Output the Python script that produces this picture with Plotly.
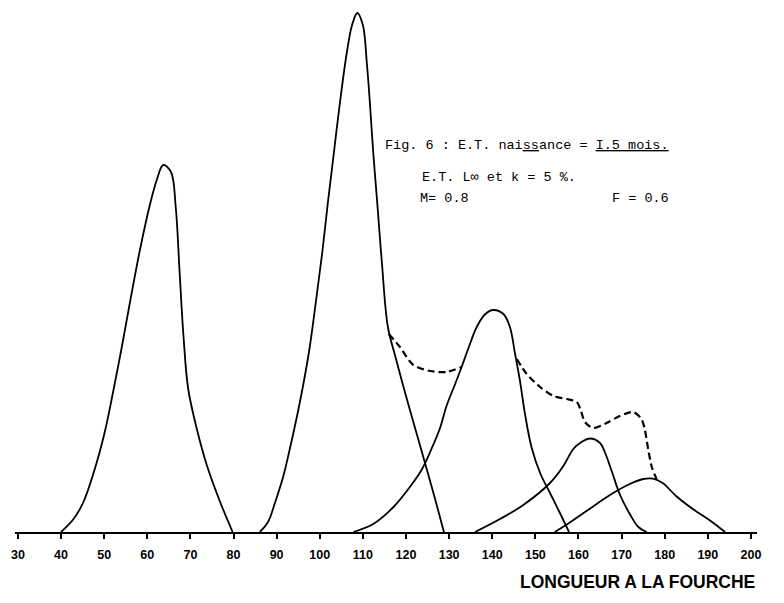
import plotly.graph_objects as go

# ---- data (length in cm, relative frequency in arbitrary units)
c1_x = [40, 42.9, 45.2, 47.9, 50.2, 51.8, 54.1, 56.0, 58.3, 60.6, 62.2, 63.7, 65.5, 66.6, 67.5, 68.4, 69.5, 71.5, 73.8, 76.9, 79.8]
c1_y = [0, 13, 30, 64, 101, 134, 185, 230, 282, 327, 352, 367, 360, 325, 260, 196, 143, 103, 67, 30, 0]

c2_x = [86.1, 88.0, 89.6, 91.5, 92.9, 95.4, 97.5, 99.1, 100.6, 101.9, 103.3, 104.7, 106.3, 107.5, 108.7,
        110.0, 110.9, 111.6, 112.4, 113.3, 114.4, 115.8, 117.5, 120.0, 122.5, 125.0, 127.0, 128.8]
c2_y = [0, 10, 29, 55, 80, 130, 180, 230, 280, 330, 380, 430, 480, 507, 519,
        507, 470, 431, 380, 331, 270, 205, 176, 136, 98, 60, 29, 0]

c3_x = [107.8, 112.4, 117.1, 120.9, 123.6, 125.9, 127.9, 129.4, 131.4, 132.9, 134.5, 136.4, 138.4, 140.2,
        142.6, 144.1, 145.3, 146.4, 147.6, 149.1, 151.1, 153.4, 155.7, 157.8]
c3_y = [0, 8, 25, 45, 62, 83, 104, 126, 148, 165, 184, 205, 218, 222,
        218, 205, 178, 152, 118, 85, 59, 39, 19, 0]

c4_x = [136.0, 141.8, 147.2, 153.4, 156.5, 158.8, 160.7, 162.7, 165.0, 166.1, 167.7, 169.6, 171.9, 173.9, 175.8]
c4_y = [0, 13, 27, 49, 66, 83, 90, 93.5, 89, 80, 61, 37.5, 18, 5, 0]

c5_x = [154.5, 158.0, 162.7, 167.3, 171.9, 175.0, 177.3, 179.6, 182.7, 186.6, 190.5, 194.0]
c5_y = [0, 9.5, 23.5, 37, 48, 53, 53.4, 48.7, 35.7, 22.7, 11.6, 0]

# dashed total curve (two visible segments; it follows curve 3 in between)
tot_x = [116.0, 118.6, 121.7, 125.6, 129.4, 132.9, None,
         145.7, 148.0, 151.1, 154.2, 157.3, 159.6, 160.5, 161.5, 163.4, 166.5, 169.6, 172.7, 174.6, 175.4, 176.2, 177.0, 178.1]
tot_y = [198, 185, 167, 161, 160, 165, None,
         173, 158, 145, 136, 133, 130, 122, 110, 104, 109, 116, 120, 113, 102, 82, 65, 53]

tick_vals = [30, 40, 50, 60, 70, 80, 90, 100, 110, 120, 130, 140, 150, 160, 170, 180, 190, 200]
tick_text = [str(v) for v in tick_vals]

fig = go.Figure()
for xs, ys in [(c1_x, c1_y), (c2_x, c2_y), (c3_x, c3_y), (c4_x, c4_y), (c5_x, c5_y)]:
    fig.add_trace(go.Scatter(x=xs, y=ys, mode="lines",
                             line=dict(color="black", width=1.8, shape="spline", smoothing=1.0),
                             showlegend=False, hoverinfo="skip"))
fig.add_trace(go.Scatter(x=tot_x, y=tot_y, mode="lines", connectgaps=False,
                         line=dict(color="black", width=2.2, dash="7px,4px", shape="spline", smoothing=0.8),
                         showlegend=False, hoverinfo="skip"))

mono = "Liberation Mono, Courier New, monospace"
fig.update_layout(
    template="none",
    width=776, height=595,
    margin=dict(l=7, r=27, t=0, b=71, autoexpand=False),
    paper_bgcolor="white", plot_bgcolor="white",
    xaxis=dict(range=[29.33, 201.4], tickvals=tick_vals, ticktext=tick_text, automargin=False,
               showgrid=False, zeroline=False, showline=True, linecolor="black", linewidth=2,
               ticks="outside", ticklen=5, tickwidth=1.5, tickcolor="black",
               ticklabelstandoff=5,
               tickfont=dict(family="Liberation Sans, Arial", size=12.5, color="black", weight="bold")),
    yaxis=dict(range=[0, 524], visible=False, showgrid=False, zeroline=False, automargin=False),
    annotations=[
        dict(text="Fig. 6 : E.T. nai<u>ss</u>ance = <u>I.5 mois.</u>", xref="paper", yref="paper",
             x=0.496, y=0.7385, xanchor="left", yanchor="middle", showarrow=False,
             font=dict(family=mono, size=13.5, color="black")),
        dict(text="E.T. L∞ et k = 5 %.", xref="paper", yref="paper",
             x=0.5458, y=0.6756, xanchor="left", yanchor="middle", showarrow=False,
             font=dict(family=mono, size=13.5, color="black")),
        dict(text="M= 0.8", xref="paper", yref="paper",
             x=0.5431, y=0.6374, xanchor="left", yanchor="middle", showarrow=False,
             font=dict(family=mono, size=13.5, color="black")),
        dict(text="F = 0.6", xref="paper", yref="paper",
             x=0.8019, y=0.6355, xanchor="left", yanchor="middle", showarrow=False,
             font=dict(family=mono, size=13.5, color="black")),
        dict(text="<b>LONGUEUR A LA FOURCHE</b>", xref="paper", yref="paper",
             x=1.0, y=-0.0954, xanchor="right", yanchor="middle", showarrow=False,
             font=dict(family="Liberation Sans, Arial", size=17.5, color="black")),
    ],
)

fig.write_html("out.html")
